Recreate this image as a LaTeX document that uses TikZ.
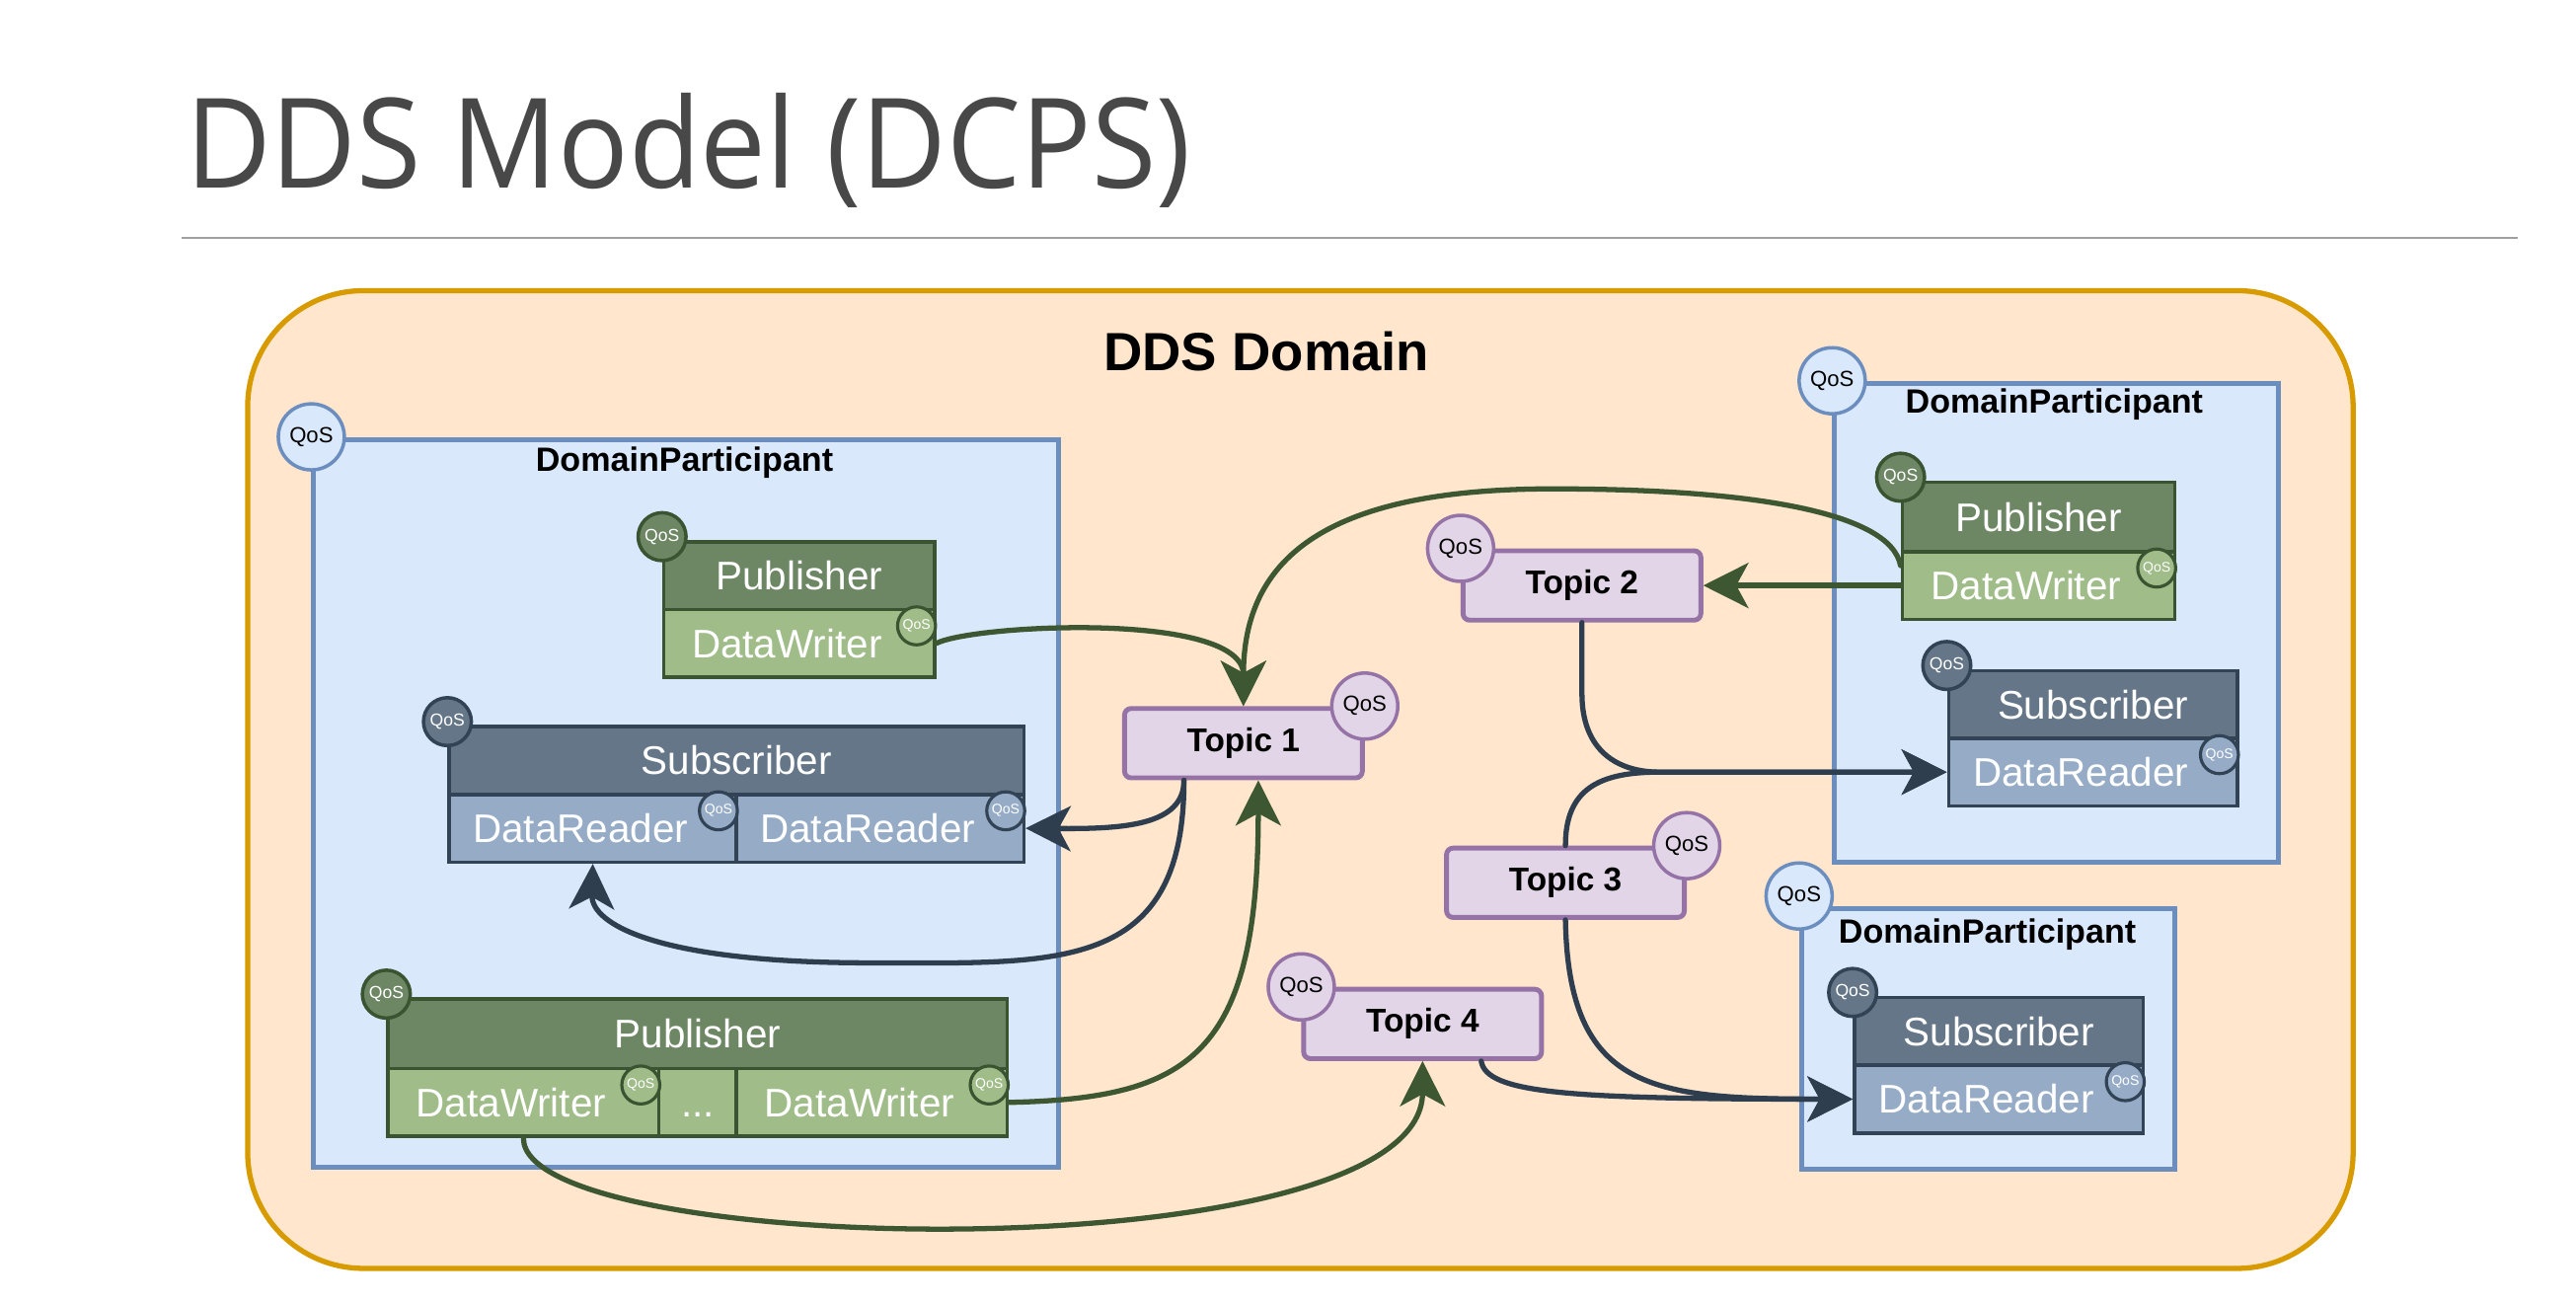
\documentclass[tikz,border=0pt]{standalone}
\usepackage{fontspec}
\setmainfont{Liberation Sans}
\newfontfamily\titlefont{Open Sans}[FakeStretch=0.94]
\usetikzlibrary{arrows.meta}
\definecolor{domfill}{HTML}{FFE6CC}
\definecolor{domline}{HTML}{D79B00}
\definecolor{dpfill}{HTML}{DAE8FC}
\definecolor{dpline}{HTML}{6C8EBF}
\definecolor{pubfill}{HTML}{6D8764}
\definecolor{publine}{HTML}{3A5431}
\definecolor{dwfill}{HTML}{9FBC89}
\definecolor{subfill}{HTML}{647687}
\definecolor{subline}{HTML}{314354}
\definecolor{drfill}{HTML}{95ABC6}
\definecolor{topfill}{HTML}{E1D5E7}
\definecolor{topline}{HTML}{9673A6}
\definecolor{wrline}{HTML}{3D5732}
\definecolor{rdline}{HTML}{2F3E4F}
\definecolor{titlegray}{HTML}{484848}
\definecolor{rulegray}{HTML}{A0A0A0}
\def\dpx{0.01673077cm}
\newcommand\qpad{\hspace*{0.25cm}}
\tikzset{
  ddsdomain/.style={draw=domline, fill=domfill, line width=1.5pt, rounded corners=70*\dpx},
  dpbox/.style={draw=dpline, fill=dpfill, line width=1.4pt},
  dplabel/.style={font=\bfseries\fontsize{9.7}{10}\selectfont},
  pbox/.style 2 args={draw=#1, fill=#2, line width=1pt, text=white, minimum height=41*\dpx,
    inner sep=0pt, text height=10.7pt, text depth=2.5pt, font=\fontsize{11.5}{12}\selectfont},
  topic/.style={rounded corners=4*\dpx, draw=topline, fill=topfill, line width=1.4pt,
    minimum width=144*\dpx, minimum height=42*\dpx, font=\bfseries\fontsize{9.5}{10}\selectfont},
  qosbig/.style 2 args={circle, draw=#1, fill=#2, line width=1pt, minimum size=40*\dpx,
    inner sep=0pt, font=\fontsize{6.3}{6.3}\selectfont},
  qosmid/.style 2 args={circle, draw=#1, fill=#2, line width=1pt, minimum size=29*\dpx,
    inner sep=0pt, text=white, font=\fontsize{5}{5}\selectfont},
  qossmall/.style 2 args={circle, draw=#1, fill=#2, line width=0.9pt, minimum size=23*\dpx,
    inner sep=0pt, text=white, font=\fontsize{4}{4}\selectfont},
  wr/.style={draw=wrline, line width=1.5pt, line cap=round,
    -{Stealth[length=13pt, width=13pt, inset=3.5pt]}},
  rd/.style={draw=rdline, line width=1.5pt, line cap=round,
    -{Stealth[length=13pt, width=13pt, inset=3.5pt]}}
}
\begin{document}
\begin{tikzpicture}[x=\dpx, y=-\dpx]
\useasboundingbox (0,0) rectangle (1560,787.8);
\fill[white] (0,0) rectangle (1560,787.8);
\node[anchor=base west, inner sep=0pt, text=titlegray, font=\titlefont\fontsize{36}{40}\selectfont] (title) at (112,114) {DDS Model (DCPS)};
\draw[rulegray, line width=0.6pt] (110,144) -- (1525,144);
\node[ddsdomain, minimum width=1275*\dpx, minimum height=592*\dpx] (dom) at (787.5,472) {};
\node[font=\bfseries\fontsize{15.5}{16}\selectfont] (domlabel) at (767,213) {DDS Domain};
\node[dpbox, minimum width=451*\dpx, minimum height=441*\dpx] (dp1) at (415.5,486.5) {};
\node[dpbox, minimum width=269*\dpx, minimum height=290*\dpx] (dp2) at (1245.5,377) {};
\node[dpbox, minimum width=226*\dpx, minimum height=158*\dpx] (dp3) at (1204,629) {};
\node[dplabel] (dp1label) at (414.5,280) {DomainParticipant};
\node[dplabel] (dp2label) at (1244,245) {DomainParticipant};
\node[dplabel] (dp3label) at (1203.5,566) {DomainParticipant};
\foreach \d in {dp1,dp2}
    \node[qosbig={dpline}{dpfill}] (q\d) at (\d.north west) {QoS};
\node[qosbig={dpline}{dpfill}] (qdp3) at ([yshift=6*\dpx]dp3.north west) {QoS};
\node[pbox={publine}{pubfill}, minimum width=164*\dpx] (pub1) at (484,348.5) {Publisher};
\node[pbox={publine}{dwfill}, minimum width=164*\dpx] (dw1) at (484,389.5) {DataWriter\qpad};
\node[pbox={subline}{subfill}, minimum width=348*\dpx] (sub1) at (446,460.5) {Subscriber};
\node[pbox={subline}{drfill}, minimum width=174*\dpx] (dr1a) at (359,501.5) {DataReader\qpad};
\node[pbox={subline}{drfill}, minimum width=174*\dpx] (dr1b) at (533,501.5) {DataReader\qpad};
\node[pbox={publine}{pubfill}, minimum width=375*\dpx, minimum height=42*\dpx] (pub2) at (422.5,626) {Publisher};
\node[pbox={publine}{dwfill}, minimum width=164*\dpx] (dwa) at (317,667.5) {DataWriter\qpad};
\node[pbox={publine}{dwfill}, minimum width=47*\dpx] (dwdots) at (422.5,667.5) {{.}{.}{.}};
\node[pbox={publine}{dwfill}, minimum width=164*\dpx] (dwb) at (528,667.5) {DataWriter\qpad};
\node[pbox={publine}{pubfill}, minimum width=165*\dpx, minimum height=42*\dpx] (pub3) at (1234.5,313) {Publisher};
\node[pbox={publine}{dwfill}, minimum width=165*\dpx] (dw3) at (1234.5,354.5) {DataWriter\qpad};
\node[pbox={subline}{subfill}, minimum width=175*\dpx] (sub2) at (1267.5,426.5) {Subscriber};
\node[pbox={subline}{drfill}, minimum width=175*\dpx] (dr2) at (1267.5,467.5) {DataReader\qpad};
\node[pbox={subline}{subfill}, minimum width=175*\dpx] (sub3) at (1210.5,624.5) {Subscriber};
\node[pbox={subline}{drfill}, minimum width=175*\dpx] (dr3) at (1210.5,665.5) {DataReader\qpad};
\foreach \b/\c/\f in {pub1/publine/pubfill, pub2/publine/pubfill, pub3/publine/pubfill,
                      sub1/subline/subfill, sub2/subline/subfill, sub3/subline/subfill}
    \node[qosmid={\c}{\f}] (q\b) at ([yshift=2*\dpx]\b.north west) {QoS};
\foreach \w/\c/\f in {dw1/publine/dwfill, dwa/publine/dwfill, dwb/publine/dwfill, dw3/publine/dwfill,
                      dr1a/subline/drfill, dr1b/subline/drfill, dr2/subline/drfill, dr3/subline/drfill}
    \node[qossmall={\c}{\f}] (q\w) at ([xshift=-12*\dpx, yshift=-11*\dpx]\w.north east) {QoS};
\node[topic] (t1) at (753,450) {Topic 1};
\node[topic] (t2) at (958,354.5) {Topic 2};
\node[topic] (t3) at (948,534.5) {Topic 3};
\node[topic] (t4) at (861.5,620) {Topic 4};
\node[qosbig={topline}{topfill}] (qt1) at (t1.north east) {QoS};
\node[qosbig={topline}{topfill}] (qt2) at (t2.north west) {QoS};
\node[qosbig={topline}{topfill}] (qt3) at (t3.north east) {QoS};
\node[qosbig={topline}{topfill}] (qt4) at (t4.north west) {QoS};
\draw[wr] (dw1.east) .. controls (590,378) and (753,370) .. (t1.north);
\draw[wr] ([yshift=12*\dpx]dw3.west) .. controls (1145,310) and (1060,296) .. (940,296)
    .. controls (800,296) and (753,340) .. (t1.north);
\draw[wr] (dw3.west) -- (t2.east);
\draw[wr] (dwb.east) .. controls (720,665) and (762,640) .. ([xshift=9*\dpx]t1.south);
\draw[wr] (dwa.south) .. controls (316,762) and (861.5,772) .. (t4.south);
\draw[rd] ([xshift=-36*\dpx]t1.south) .. controls (717,500) and (680,502) .. (dr1b.east);
\draw[rd] ([xshift=-36*\dpx]t1.south) .. controls (717,590) and (640,583) .. (527,583)
    .. controls (400,583) and (358,560) .. (dr1a.south);
\draw[rd] (t2.south) -- (958,420) .. controls (958,455) and (980,467.5) .. (1005,467.5) -- (dr2.west);
\draw[rd] (t3.north) .. controls (948,478) and (968,467.5) .. (1005,467.5) -- (dr2.west);
\draw[rd] (t3.south) .. controls (950,660) and (1000,665.5) .. (dr3.west);
\draw[rd] ([xshift=35.5*\dpx]t4.south) .. controls (900,662) and (950,665.5) .. (dr3.west);
\end{tikzpicture}
\end{document}
